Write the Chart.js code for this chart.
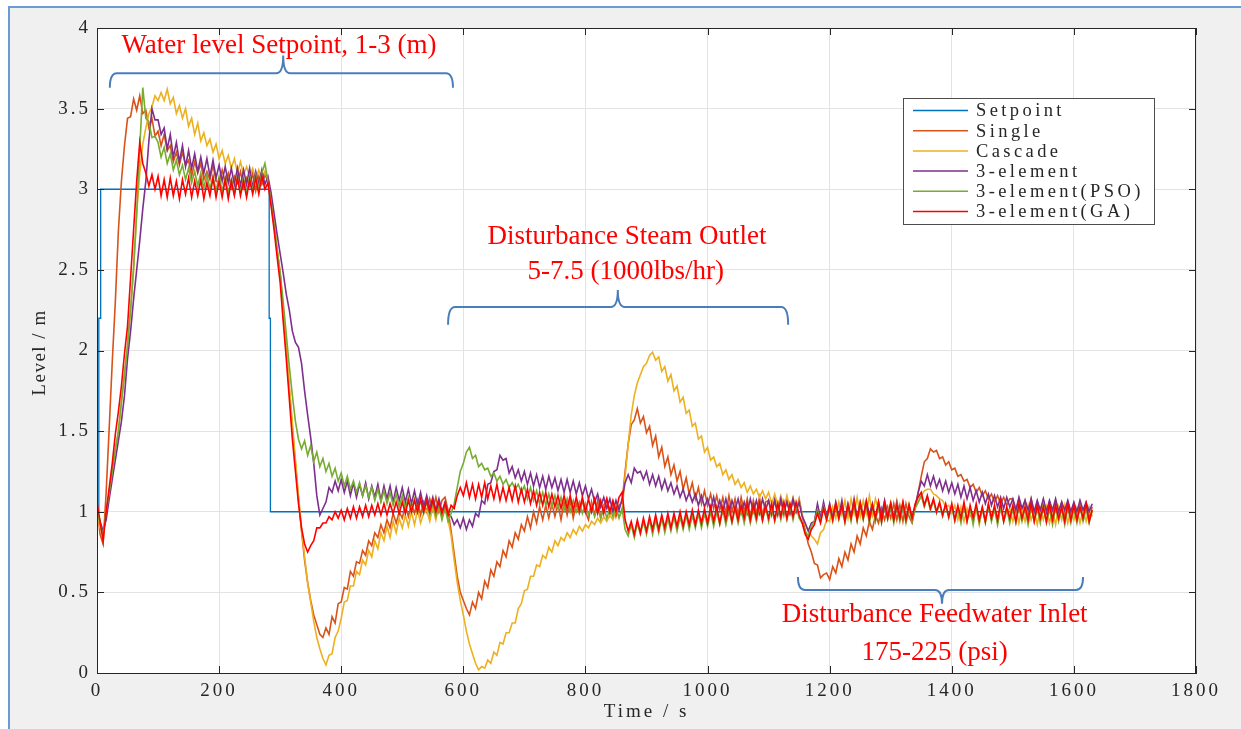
<!DOCTYPE html>
<html>
<head>
<meta charset="utf-8">
<title>Drum water level response</title>
<script src="https://cdn.jsdelivr.net/npm/chart.js@4/dist/chart.umd.min.js"></script>
<style>
  html, body { margin: 0; padding: 0; background: #fff; overflow: hidden; }
  canvas { display: block; }
</style>
</head>
<body>
<canvas id="levelChart" width="1241" height="729" style="width:1241px;height:729px"></canvas>
<script>
// values, one sample every 5 s (t = 0 ... 1630 s)
const sampleStep = 5;

const seriesNames = ["Setpoint", "Single", "Cascade", "3-element", "3-element(PSO)", "3-element(GA)"];
const seriesColors = ["#0072BD", "#D95319", "#EDB120", "#7E2F8E", "#77AC30", "#FF0000"];

const xTickLabels = ["0", "200", "400", "600", "800", "1000", "1200", "1400", "1600", "1800"];
const yTickLabels = ["0", "0.5", "1", "1.5", "2", "2.5", "3", "3.5", "4"];

const setpointTime  = [0, 3, 3, 6, 6, 282, 282, 284, 284, 1630];
const setpointLevel = [1, 1, 2.2, 2.2, 3, 3, 2.2, 2.2, 1, 1];

const singleLevel = [
  1.04,0.86,0.80,1.12,1.52,1.93,2.30,2.74,3.05,3.27,3.44,3.45,3.56,3.49,3.58,3.47,3.49,3.38,3.44,3.33,
  3.36,3.27,3.34,3.24,3.27,3.17,3.23,3.15,3.23,3.15,3.18,3.08,3.17,3.10,3.16,3.06,3.11,3.06,3.15,3.05,
  3.04,3.12,3.04,3.10,3.01,3.08,3.04,3.11,3.01,3.07,3.02,3.10,2.99,3.08,3.03,3.09,3.05,2.92,2.78,2.62,
  2.48,2.22,2.00,1.75,1.52,1.30,1.08,0.88,0.70,0.56,0.45,0.36,0.30,0.24,0.22,0.28,0.24,0.35,0.31,0.43,
  0.44,0.53,0.52,0.63,0.60,0.69,0.68,0.76,0.73,0.82,0.79,0.87,0.84,0.92,0.87,0.95,0.90,0.99,0.93,1.00,
  0.96,1.04,0.97,1.05,0.99,1.07,0.98,1.06,1.00,1.08,1.01,1.09,1.00,1.07,1.09,1.01,0.88,0.74,0.60,0.50,
  0.45,0.40,0.36,0.44,0.40,0.50,0.46,0.57,0.53,0.64,0.60,0.69,0.66,0.76,0.72,0.82,0.78,0.87,0.83,0.92,
  0.88,0.97,0.90,1.00,0.93,1.03,0.95,1.04,0.96,1.05,0.97,1.05,0.95,1.06,0.98,1.07,0.96,1.05,0.99,1.07,
  1.00,0.95,1.06,0.98,1.07,0.96,1.04,1.08,0.98,1.06,0.97,1.04,1.06,1.25,1.42,1.54,1.57,1.64,1.55,1.59,
  1.49,1.53,1.41,1.47,1.34,1.40,1.28,1.34,1.23,1.29,1.19,1.25,1.14,1.21,1.11,1.18,1.08,1.15,1.05,1.13,
  1.04,1.11,1.02,1.10,1.01,1.09,0.99,1.10,1.00,1.08,0.98,1.09,1.00,1.08,0.97,1.07,0.99,1.09,0.98,1.06,
  1.07,0.98,1.08,0.99,1.07,0.98,1.08,0.99,1.07,1.00,1.08,0.98,0.88,0.80,0.75,0.68,0.67,0.59,0.61,0.62,
  0.58,0.66,0.62,0.71,0.66,0.75,0.70,0.80,0.75,0.85,0.80,0.90,0.85,0.94,0.89,0.98,0.93,1.02,0.95,1.03,
  0.96,1.05,0.95,1.04,0.94,1.05,0.97,0.93,1.03,1.12,1.22,1.31,1.33,1.39,1.37,1.38,1.33,1.34,1.29,1.31,
  1.26,1.27,1.22,1.23,1.19,1.20,1.15,1.17,1.12,1.15,1.10,1.13,1.08,1.11,1.06,1.10,1.05,1.09,1.04,1.08,
  1.08,1.00,1.08,1.00,1.07,0.98,1.08,0.99,1.06,0.98,1.07,0.99,1.06,0.97,1.07,1.00,1.06,0.97,1.06,0.99,
  1.05,0.97,1.06,0.98,1.05,0.96,1.03
];

const cascadeLevel = [
  1.00,0.90,0.85,1.00,1.12,1.25,1.38,1.50,1.68,1.85,2.03,2.25,2.50,2.85,3.10,3.28,3.38,3.47,3.51,3.58,
  3.55,3.60,3.55,3.62,3.53,3.57,3.47,3.52,3.44,3.50,3.39,3.44,3.34,3.41,3.30,3.35,3.27,3.31,3.23,3.28,
  3.19,3.24,3.16,3.21,3.13,3.19,3.10,3.17,3.09,3.14,3.08,3.13,3.06,3.12,3.05,3.11,3.06,2.95,2.80,2.63,
  2.48,2.25,2.02,1.78,1.55,1.32,1.10,0.90,0.72,0.56,0.44,0.32,0.22,0.15,0.09,0.05,0.11,0.12,0.22,0.26,
  0.34,0.44,0.45,0.54,0.54,0.63,0.61,0.70,0.67,0.76,0.72,0.82,0.77,0.87,0.82,0.91,0.84,0.94,0.87,0.96,
  0.90,0.98,0.91,1.00,0.92,1.01,0.93,0.99,1.01,0.94,1.03,0.95,1.04,0.96,1.04,0.95,0.85,0.70,0.56,0.45,
  0.36,0.26,0.18,0.12,0.06,0.02,0.04,0.03,0.08,0.06,0.13,0.11,0.19,0.18,0.25,0.25,0.31,0.31,0.40,0.43,
  0.51,0.52,0.60,0.60,0.67,0.66,0.73,0.71,0.78,0.75,0.82,0.79,0.84,0.82,0.87,0.84,0.89,0.86,0.91,0.88,
  0.92,0.90,0.94,0.92,0.96,0.93,0.97,0.94,0.98,0.95,1.01,0.97,1.00,1.22,1.42,1.60,1.72,1.80,1.85,1.90,
  1.92,1.97,1.99,1.94,1.96,1.87,1.90,1.81,1.85,1.75,1.78,1.68,1.71,1.61,1.63,1.53,1.55,1.45,1.47,1.37,
  1.40,1.32,1.34,1.28,1.30,1.23,1.26,1.20,1.23,1.17,1.20,1.15,1.18,1.12,1.16,1.11,1.14,1.09,1.13,1.08,
  1.12,1.05,1.11,1.04,1.10,1.03,1.10,1.02,1.09,1.01,1.07,0.98,0.92,0.88,0.85,0.83,0.80,0.87,0.89,0.95,
  0.94,1.03,0.96,1.06,0.98,1.07,0.96,1.08,0.99,1.09,0.97,1.07,0.99,1.10,0.98,1.08,1.01,0.96,1.07,0.99,
  1.06,0.96,1.07,0.97,1.06,0.95,1.05,0.96,1.03,1.06,1.10,1.13,1.14,1.14,1.11,1.10,1.08,1.07,1.03,1.04,
  0.99,1.04,0.95,1.03,0.94,1.02,0.97,0.99,1.02,0.92,1.02,0.94,1.04,0.95,1.01,0.93,1.03,0.94,1.00,1.02,
  0.94,1.03,0.93,1.02,0.94,1.04,0.95,1.01,0.92,1.02,0.95,1.03,0.93,1.01,0.92,1.03,0.95,1.04,0.93,1.01,
  0.95,1.02,0.93,1.01,0.94,1.03,0.97
];

const threeElementLevel = [
  1.02,0.94,0.88,0.95,1.08,1.20,1.32,1.44,1.56,1.72,1.95,2.12,2.32,2.50,2.68,2.88,3.05,3.30,3.50,3.43,
  3.43,3.34,3.38,3.25,3.34,3.20,3.29,3.17,3.27,3.14,3.24,3.13,3.22,3.11,3.20,3.10,3.19,3.08,3.18,3.07,
  3.15,3.05,3.14,3.04,3.13,3.03,3.13,3.02,3.12,3.03,3.13,3.01,3.11,3.03,3.12,3.03,3.08,2.98,2.85,2.72,
  2.60,2.48,2.35,2.25,2.12,2.05,2.02,1.92,1.75,1.60,1.46,1.30,1.10,0.98,1.02,1.06,1.15,1.12,1.19,1.13,
  1.20,1.12,1.19,1.10,1.18,1.09,1.17,1.10,1.18,1.08,1.16,1.09,1.17,1.07,1.16,1.08,1.16,1.06,1.15,1.07,
  1.15,1.06,1.14,1.05,1.13,1.04,1.12,1.03,1.10,1.02,1.09,1.01,1.08,1.00,1.06,0.99,0.97,0.92,0.95,0.90,
  0.96,0.89,0.95,0.91,0.99,0.97,1.07,1.05,1.17,1.18,1.25,1.26,1.35,1.32,1.33,1.24,1.28,1.21,1.26,1.19,
  1.25,1.17,1.24,1.16,1.23,1.15,1.22,1.14,1.22,1.15,1.21,1.13,1.20,1.12,1.20,1.12,1.19,1.11,1.18,1.10,
  1.16,1.08,1.14,1.06,1.11,1.03,1.09,1.02,1.08,1.00,1.07,1.01,1.08,1.18,1.23,1.18,1.27,1.24,1.25,1.20,
  1.25,1.17,1.23,1.16,1.22,1.14,1.20,1.13,1.18,1.11,1.16,1.09,1.14,1.07,1.12,1.06,1.11,1.04,1.10,1.03,
  1.08,1.01,1.09,1.00,1.07,1.00,1.08,0.99,1.07,1.01,1.08,0.99,1.06,0.99,1.08,1.00,1.07,0.99,1.08,1.01,
  1.07,0.99,1.07,0.98,1.08,1.00,1.06,0.99,1.08,1.00,1.06,0.97,0.93,0.88,0.93,0.94,1.05,0.96,1.06,0.97,
  1.05,0.96,1.06,0.97,1.07,0.95,1.05,0.97,1.08,0.96,1.06,0.97,1.07,0.98,1.05,0.95,1.06,0.98,1.07,0.97,
  1.05,0.96,1.06,0.97,1.05,0.95,1.04,0.96,1.03,1.12,1.19,1.16,1.23,1.16,1.22,1.15,1.20,1.13,1.19,1.12,
  1.18,1.11,1.17,1.09,1.16,1.08,1.15,1.07,1.13,1.06,1.12,1.05,1.11,1.04,1.10,1.03,1.09,1.02,1.09,1.03,
  1.08,1.01,1.09,1.02,1.07,1.01,1.08,1.00,1.07,1.01,1.08,1.00,1.07,1.01,1.08,1.00,1.06,1.01,1.07,1.00,
  1.06,1.00,1.07,1.01,1.06,1.00,1.05
];

const psoLevel = [
  1.02,0.92,0.86,1.00,1.12,1.25,1.38,1.50,1.68,1.85,2.03,2.25,2.52,2.85,3.25,3.63,3.44,3.42,3.32,3.33,
  3.29,3.20,3.26,3.16,3.22,3.12,3.18,3.09,3.15,3.06,3.13,3.04,3.11,3.02,3.10,3.01,3.09,3.00,3.08,2.99,
  3.08,2.99,3.07,2.98,3.06,2.97,3.08,2.98,3.07,2.97,3.08,2.99,3.09,3.00,3.10,3.16,3.05,2.92,2.78,2.62,
  2.48,2.30,2.10,1.90,1.72,1.56,1.45,1.39,1.44,1.35,1.41,1.31,1.37,1.28,1.33,1.25,1.30,1.22,1.27,1.19,
  1.24,1.16,1.22,1.14,1.19,1.12,1.18,1.10,1.16,1.09,1.15,1.07,1.14,1.06,1.13,1.05,1.12,1.04,1.11,1.03,
  1.10,1.02,1.09,1.01,1.08,1.00,1.07,0.99,1.06,0.98,1.05,0.97,1.04,0.95,1.02,0.94,0.99,1.05,1.15,1.25,
  1.30,1.37,1.40,1.33,1.35,1.28,1.30,1.26,1.27,1.22,1.24,1.19,1.22,1.17,1.20,1.15,1.18,1.14,1.17,1.12,
  1.16,1.08,1.15,1.07,1.13,1.05,1.12,1.04,1.11,1.03,1.10,1.02,1.09,1.01,1.08,1.00,1.07,1.00,1.06,0.99,
  1.05,0.98,1.04,0.97,1.03,0.96,1.03,0.96,1.02,0.97,1.03,0.96,1.02,0.89,0.85,0.92,0.84,0.93,0.86,0.94,
  0.86,0.95,0.86,0.95,0.87,0.96,0.87,0.96,0.88,0.97,0.88,0.97,0.89,0.98,0.89,0.98,0.90,0.99,0.90,0.99,
  0.91,1.00,0.91,1.00,0.92,1.01,0.92,1.01,0.93,1.02,0.93,1.02,0.93,1.02,0.93,1.02,0.94,1.03,0.94,1.03,
  0.94,1.03,0.94,1.03,0.95,1.04,0.95,1.04,0.95,1.04,0.96,0.93,0.88,0.85,0.91,0.94,1.01,0.94,1.03,0.95,
  1.03,0.94,1.04,0.95,1.03,0.93,1.03,0.94,1.05,0.94,1.04,0.95,1.04,0.93,1.03,0.94,1.04,0.93,1.03,0.95,
  1.03,0.93,1.04,0.94,1.03,0.93,1.02,0.94,1.02,1.06,1.10,1.03,1.09,1.01,1.07,0.99,1.05,0.97,1.04,0.96,
  1.03,0.94,1.02,0.93,1.04,0.94,1.02,0.92,1.03,0.93,1.02,0.93,1.04,0.94,1.02,0.92,1.03,0.94,1.02,0.93,
  1.02,0.93,1.03,0.94,1.02,0.92,1.03,0.94,1.02,0.93,1.04,0.93,1.02,0.92,1.03,0.94,1.02,0.92,1.03,0.93,
  1.02,0.93,1.03,0.94,1.02,0.93,1.01
];

const gaLevel = [
  1.06,0.94,0.82,1.00,1.15,1.30,1.48,1.62,1.78,1.98,2.15,2.45,2.75,3.05,3.29,3.16,3.10,3.02,3.09,3.00,
  3.08,2.96,3.06,2.95,3.07,2.96,3.05,2.94,3.06,2.97,3.07,2.95,3.05,2.96,3.06,2.94,3.04,2.96,3.07,2.95,
  3.05,2.95,3.06,2.94,3.05,2.96,3.07,2.96,3.05,2.95,3.06,2.97,3.07,2.97,3.08,3.00,3.04,2.90,2.75,2.58,
  2.42,2.18,1.95,1.70,1.45,1.25,1.05,0.90,0.80,0.75,0.79,0.82,0.90,0.90,0.93,0.93,0.97,0.95,1.00,0.96,
  1.01,0.95,1.02,0.96,1.03,0.96,1.03,0.97,1.04,0.97,1.04,0.98,1.05,0.98,1.05,0.98,1.05,0.99,1.06,0.99,
  1.06,0.99,1.07,1.00,1.07,1.00,1.08,1.00,1.07,1.00,1.07,1.00,1.06,0.99,1.05,0.98,1.04,1.02,1.10,1.15,
  1.10,1.18,1.09,1.17,1.08,1.17,1.09,1.18,1.08,1.16,1.08,1.17,1.07,1.15,1.07,1.15,1.07,1.16,1.06,1.14,
  1.06,1.14,1.05,1.13,1.04,1.12,1.04,1.12,1.03,1.11,1.03,1.10,1.02,1.10,1.02,1.10,1.01,1.09,1.01,1.09,
  1.00,1.08,1.00,1.08,0.99,1.07,0.99,1.08,1.00,1.07,1.00,1.09,1.12,0.95,0.88,0.94,0.86,0.95,0.87,0.96,
  0.88,0.97,0.89,0.98,0.89,0.98,0.90,0.99,0.90,0.99,0.91,1.00,0.91,1.00,0.92,1.01,0.92,1.01,0.93,1.02,
  0.93,1.03,0.94,1.03,0.93,1.03,0.95,1.04,0.94,1.03,0.95,1.04,0.96,1.05,0.95,1.04,0.96,1.05,0.95,1.04,
  0.96,1.05,0.95,1.05,0.97,1.06,0.96,1.05,0.97,1.06,0.98,0.93,0.86,0.83,0.89,0.92,0.99,0.93,1.02,0.95,
  1.04,0.95,1.05,0.96,1.04,0.94,1.04,0.96,1.06,0.95,1.05,0.96,1.06,0.95,1.04,0.96,1.06,0.94,1.05,0.96,
  1.05,0.95,1.04,0.96,1.06,0.95,1.04,0.96,1.05,1.09,1.12,1.04,1.10,1.02,1.08,1.00,1.06,0.98,1.05,0.97,
  1.05,0.95,1.04,0.96,1.06,0.94,1.04,0.96,1.05,0.95,1.03,0.94,1.05,0.96,1.04,0.95,1.06,0.94,1.03,0.96,
  1.04,0.94,1.05,0.96,1.03,0.95,1.05,0.94,1.04,0.96,1.03,0.94,1.05,0.95,1.04,0.96,1.03,0.94,1.05,0.95,
  1.04,0.95,1.03,0.96,1.05,0.94,1.01
];

const serif = "'Liberation Serif', 'Times New Roman', serif";

function sampled(values) {
  return values.map((v, i) => ({ x: i * sampleStep, y: v }));
}

const levelSeries = [
  setpointTime.map((t, i) => ({ x: t, y: setpointLevel[i] })),
  sampled(singleLevel),
  sampled(cascadeLevel),
  sampled(threeElementLevel),
  sampled(psoLevel),
  sampled(gaLevel)
];

// a curly brace lying on its side; ends bend towards yEnd, the middle points at yMid
function drawBrace(ctx, x1, x2, xm, y, yEnd, yMid) {
  const r = 7;
  ctx.beginPath();
  ctx.moveTo(x1, yEnd);
  ctx.quadraticCurveTo(x1, y, x1 + r, y);
  ctx.lineTo(xm - r, y);
  ctx.quadraticCurveTo(xm, y, xm, yMid);
  ctx.quadraticCurveTo(xm, y, xm + r, y);
  ctx.lineTo(x2 - r, y);
  ctx.quadraticCurveTo(x2, y, x2, yEnd);
  ctx.stroke();
}

const figurePlugin = {
  id: "figure",
  beforeDraw(chart) {
    const { ctx, width, height, chartArea: a } = chart;
    ctx.save();
    ctx.fillStyle = "#ffffff";
    ctx.fillRect(0, 0, width, height);
    ctx.fillStyle = "#f0f0f0";
    ctx.fillRect(9, 7, width - 9, height - 7);
    ctx.strokeStyle = "#6a9bd3";
    ctx.lineWidth = 2;
    ctx.beginPath();
    ctx.moveTo(9, height);
    ctx.lineTo(9, 7);
    ctx.lineTo(width, 7);
    ctx.stroke();
    ctx.fillStyle = "#ffffff";
    ctx.fillRect(a.left, a.top, a.right - a.left, a.bottom - a.top);
    ctx.restore();
    // MATLAB-style loose text for the axes
    ctx.letterSpacing = "3px";
  },
  afterDraw(chart) {
    const { ctx, chartArea: a, scales } = chart;
    const xs = scales.x, ys = scales.y;
    const px = t => xs.getPixelForValue(t);
    const py = v => ys.getPixelForValue(v);

    ctx.save();
    // box and inward ticks
    ctx.strokeStyle = "#262626";
    ctx.lineWidth = 1;
    ctx.strokeRect(a.left + 0.5, a.top + 0.5, a.right - a.left - 1, a.bottom - a.top);
    ctx.beginPath();
    xs.ticks.forEach(tk => {
      const x = Math.round(px(tk.value)) + 0.5;
      ctx.moveTo(x, a.bottom); ctx.lineTo(x, a.bottom - 7);
      ctx.moveTo(x, a.top); ctx.lineTo(x, a.top + 7);
    });
    ys.ticks.forEach(tk => {
      const y = Math.round(py(tk.value)) + 0.5;
      ctx.moveTo(a.left, y); ctx.lineTo(a.left + 7, y);
      ctx.moveTo(a.right, y); ctx.lineTo(a.right - 7, y);
    });
    ctx.stroke();

    // y axis title
    ctx.save();
    ctx.translate(40, (a.top + a.bottom) / 2 + 2);
    ctx.rotate(-Math.PI / 2);
    ctx.font = "19px " + serif;
    ctx.letterSpacing = "1.5px";
    ctx.fillStyle = "#262626";
    ctx.textAlign = "center";
    ctx.textBaseline = "middle";
    ctx.fillText("Level / m", 0, 0);
    ctx.restore();

    // legend
    const lx = 903, ly = 98, lw = 251, lh = 126;
    ctx.fillStyle = "#ffffff";
    ctx.fillRect(lx, ly, lw, lh);
    ctx.strokeStyle = "#4d4d4d";
    ctx.strokeRect(lx + 0.5, ly + 0.5, lw, lh);
    ctx.font = "18.5px " + serif;
    ctx.letterSpacing = "3.4px";
    ctx.textBaseline = "middle";
    ctx.textAlign = "left";
    chart.data.datasets.forEach((ds, i) => {
      const y = 110.5 + i * 20.2;
      ctx.strokeStyle = ds.borderColor;
      ctx.lineWidth = 1.5;
      ctx.beginPath();
      ctx.moveTo(913, y); ctx.lineTo(968, y);
      ctx.stroke();
      ctx.fillStyle = "#262626";
      ctx.fillText(ds.label, 976, y + 1);
    });

    // annotations: red notes with blue braces
    ctx.letterSpacing = "0px";
    ctx.strokeStyle = "#4a7ebb";
    ctx.lineWidth = 2;
    drawBrace(ctx, px(21), px(583), px(305), py(3.72), py(3.63), py(3.83));
    drawBrace(ctx, px(575), px(1132), px(853), py(2.27), py(2.16), py(2.375));
    drawBrace(ctx, px(1148), px(1615), px(1384), py(0.515), py(0.595), py(0.43));

    ctx.fillStyle = "#ff0000";
    ctx.font = "27px " + serif;
    ctx.textAlign = "center";
    ctx.textBaseline = "alphabetic";
    ctx.fillText("Water level Setpoint, 1-3 (m)", px(298), py(3.845));
    ctx.fillText("Disturbance Steam Outlet", px(868), py(2.66));
    ctx.fillText("5-7.5 (1000lbs/hr)", px(866), py(2.443));
    ctx.fillText("Disturbance Feedwater Inlet", px(1372), py(0.316));
    ctx.fillText("175-225 (psi)", px(1372), py(0.08));
    ctx.restore();
  }
};

new Chart(document.getElementById("levelChart"), {
  type: "line",
  data: {
    datasets: seriesNames.map((name, i) => ({
      label: name,
      data: levelSeries[i],
      borderColor: seriesColors[i],
      backgroundColor: seriesColors[i],
      borderWidth: i === 0 ? 1.3 : 1.6,
      pointRadius: 0,
      tension: 0,
      fill: false,
      order: seriesNames.length - i
    }))
  },
  options: {
    responsive: false,
    devicePixelRatio: 1,
    animation: false,
    events: [],
    layout: { padding: { left: 0, top: 28, right: 45, bottom: 0 } },
    plugins: {
      legend: { display: false },
      tooltip: { enabled: false }
    },
    scales: {
      x: {
        type: "linear",
        min: 0,
        max: 1800,
        afterFit: s => { s.height = 56; },
        ticks: {
          stepSize: 200,
          autoSkip: false,
          maxRotation: 0,
          padding: 7,
          color: "#262626",
          font: { family: serif, size: 19 },
          callback: (v, i) => xTickLabels[i]
        },
        grid: { color: "#e3e3e3", lineWidth: 1, drawTicks: false },
        border: { color: "#262626", width: 1 },
        title: {
          display: true,
          text: "Time / s",
          color: "#262626",
          font: { family: serif, size: 19 },
          padding: { top: 0, bottom: 6 }
        }
      },
      y: {
        min: 0,
        max: 4,
        afterFit: s => { s.width = 97; },
        ticks: {
          stepSize: 0.5,
          padding: 6,
          color: "#262626",
          font: { family: serif, size: 19 },
          callback: (v, i) => yTickLabels[i]
        },
        grid: { color: "#e3e3e3", lineWidth: 1, drawTicks: false },
        border: { color: "#262626", width: 1 }
      }
    }
  },
  plugins: [figurePlugin]
});
</script>
</body>
</html>
